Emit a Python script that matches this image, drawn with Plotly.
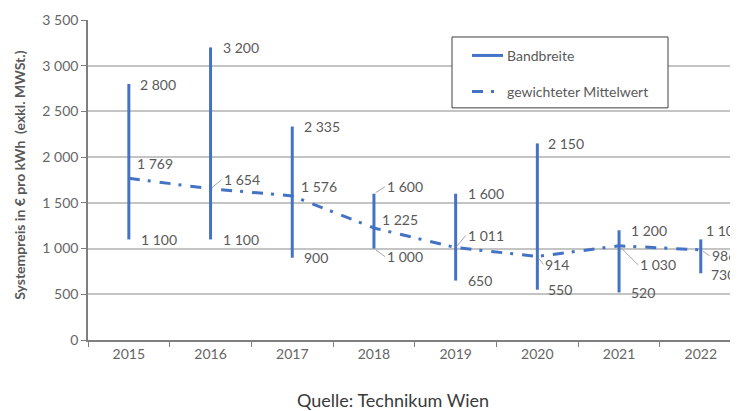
import plotly.graph_objects as go

# ---- data ----
years = ["2015", "2016", "2017", "2018", "2019", "2020", "2021", "2022"]
band_min = [1100, 1100, 900, 1000, 650, 550, 520, 730]
band_max = [2800, 3200, 2335, 1600, 1600, 2150, 1200, 1100]
weighted_mean = [1769, 1654, 1576, 1225, 1011, 914, 1030, 986]
y_ticks = [0, 500, 1000, 1500, 2000, 2500, 3000, 3500]

# ---- label placement (pixel offsets dx, dy(down), leader line flag) ----
max_off = [(9, 0, 0), (10, 0, 0), (10, 0, 0), (11, -7, 1), (10, 0, 0), (9, 0, 0), (10, 0, 0), (3, -9, 0)]
min_off = [(10, 0, 0), (10, 0, 0), (10, 0, 0), (11, 8, 1), (10, 0, 0), (9, 0, 0), (10, 0, 0), (8, 1, 0)]
mean_off = [(6, -15, 0), (11, -9, 1), (7, -9, 0), (6, -9, 0), (10, -12, 1), (6, 8, 1), (19, 19, 1), (9, 6, 1)]

BLUE = "#4472C4"
TXT = "#595959"
FONT = "Lato"

# page body has an 8px margin -> figure is shifted by 8px
OFF = 8
W, H = 738 - OFF, 411 - OFF
PL, PT, PR, PB = 88, 20, 738, 340.5   # plot area in window pixels
L, T = PL - OFF, PT - OFF
R = (OFF + W) - PR
B = (OFF + H) - PB
plot_w = PR - PL
plot_h = PB - PT
cat_w = 81.7


def px(xp):
    return (xp - PL) / plot_w


def py(yp):
    return (PB - yp) / plot_h


def fmt(v):
    return f"{v:,}".replace(",", " ")


# range lines built from the data arrays
bx, by = [], []
for yr, lo, hi in zip(years, band_min, band_max):
    bx += [yr, yr, None]
    by += [lo, hi, None]

fig = go.Figure()
fig.add_trace(go.Scatter(x=bx, y=by, mode="lines", name="Bandbreite",
                         line=dict(color=BLUE, width=3), showlegend=False,
                         hoverinfo="skip"))
fig.add_trace(go.Scatter(x=years, y=weighted_mean, mode="lines",
                         name="gewichteter Mittelwert",
                         line=dict(color=BLUE, width=3, dash="11px,8px,3px,9px"),
                         showlegend=False))

annots = []


def add_label(idx, v, off):
    dx, dy, lead = off
    if lead:
        annots.append(dict(x=idx, y=v, xref="x", yref="y", text=fmt(v),
                           showarrow=True, arrowhead=0, arrowwidth=1,
                           arrowcolor="#a6a6a6", ax=dx, ay=dy, standoff=2,
                           xanchor="left", yanchor="middle",
                           font=dict(family=FONT, size=14, color=TXT)))
    else:
        annots.append(dict(x=idx, y=v, xref="x", yref="y", text=fmt(v),
                           showarrow=False, xshift=dx, yshift=-dy,
                           xanchor="left", yanchor="middle",
                           font=dict(family=FONT, size=14, color=TXT)))


for i, yr in enumerate(years):
    add_label(i, band_max[i], max_off[i])
    add_label(i, band_min[i], min_off[i])
    add_label(i, weighted_mean[i], mean_off[i])

# axis title
annots.append(dict(x=px(20), y=py(176), xref="paper", yref="paper",
                   text="Systempreis in € pro kWh \u00a0(exkl. MWSt.)",
                   textangle=-90, showarrow=False, xanchor="center", yanchor="middle",
                   font=dict(family=FONT, size=14, color=TXT, weight="bold")))
# source
annots.append(dict(x=px(392.5), y=py(400.5), xref="paper", yref="paper",
                   text="Quelle: Technikum Wien", showarrow=False,
                   xanchor="center", yanchor="middle",
                   font=dict(family=FONT, size=18, color="#3a3a3a")))

# manual legend
shapes = [
    dict(type="rect", xref="paper", yref="paper", x0=px(452), x1=px(668),
         y0=py(108), y1=py(37), line=dict(color="#404040", width=1),
         fillcolor="white", layer="above"),
    dict(type="line", xref="paper", yref="paper", x0=px(472), x1=px(503),
         y0=py(55.5), y1=py(55.5), line=dict(color=BLUE, width=3), layer="above"),
    dict(type="line", xref="paper", yref="paper", x0=px(472), x1=px(503),
         y0=py(91.5), y1=py(91.5), line=dict(color=BLUE, width=3, dash="11px,8px,3px,9px"),
         layer="above"),
]
annots.append(dict(x=px(505), y=py(56), xref="paper", yref="paper", text="Bandbreite",
                   showarrow=False, xanchor="left", yanchor="middle",
                   font=dict(family=FONT, size=14, color=TXT)))
annots.append(dict(x=px(505), y=py(92), xref="paper", yref="paper",
                   text="gewichteter Mittelwert",
                   showarrow=False, xanchor="left", yanchor="middle",
                   font=dict(family=FONT, size=14, color=TXT)))

fig.update_layout(
    width=W, height=H,
    margin=dict(l=L, r=R, t=T, b=B, pad=0),
    paper_bgcolor="white", plot_bgcolor="white",
    separators=", ",
    showlegend=False,
    annotations=annots,
    shapes=shapes,
    font=dict(family=FONT, size=14, color=TXT),
)
fig.update_xaxes(type="category", categoryorder="array", categoryarray=years,
                 range=[-0.5, -0.5 + plot_w / cat_w],
                 showline=True, linecolor="#7f7f7f", linewidth=1.5,
                 ticks="outside", tickson="boundaries", ticklen=5, tickcolor="#7f7f7f",
                 tickfont=dict(family=FONT, size=14, color="#666666"),
                 showgrid=False, zeroline=False, automargin=False)
fig.update_yaxes(range=[0, 3500], tickvals=y_ticks, tickformat=",d",
                 showline=True, linecolor="#7f7f7f", linewidth=1.5,
                 ticks="outside", ticklen=5, tickcolor="#7f7f7f",
                 tickfont=dict(family=FONT, size=14, color="#666666"),
                 showgrid=True, gridcolor="#c4c4c4", gridwidth=1.5,
                 zeroline=False, automargin=False)

fig.write_html("out.html")
